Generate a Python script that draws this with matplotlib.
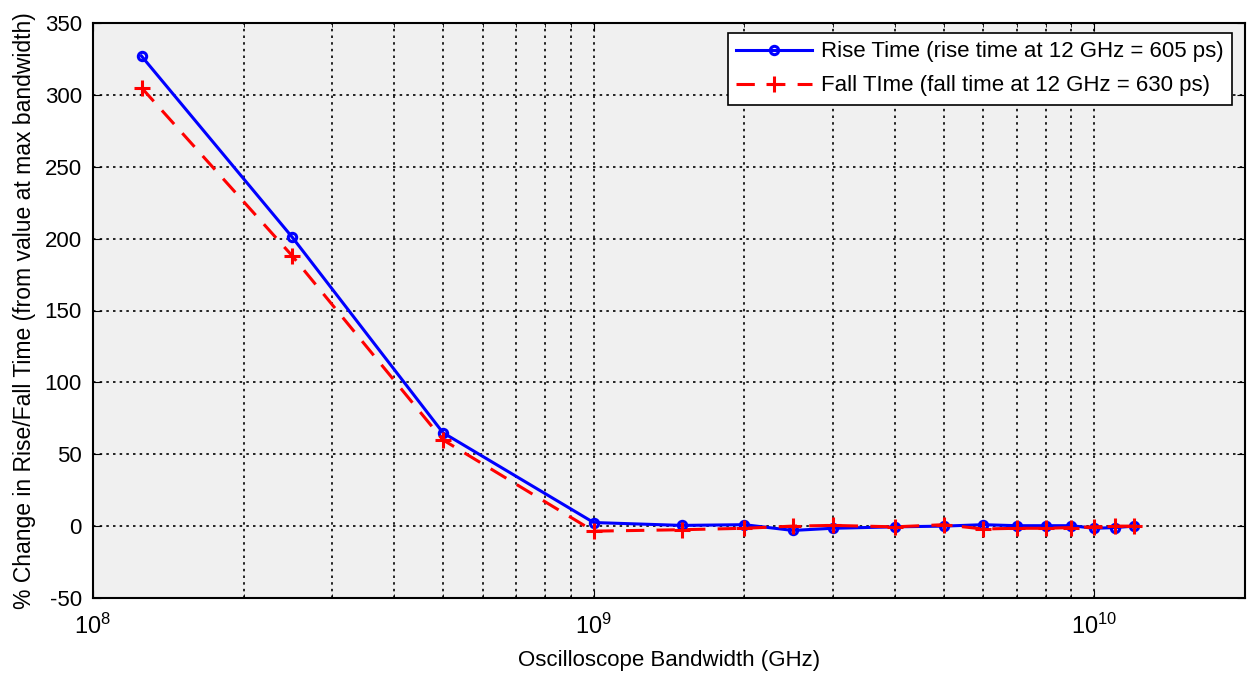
import matplotlib
matplotlib.use("Agg")
import matplotlib.pyplot as plt
import numpy as np
from matplotlib.ticker import LogLocator, NullFormatter, MultipleLocator

bandwidth_hz = [125e6, 250e6, 500e6, 1e9, 1.5e9, 2e9, 2.5e9, 3e9, 4e9, 5e9,
                6e9, 7e9, 8e9, 9e9, 10e9, 11e9, 12e9]
rise_pct = [327, 201, 65, 2.5, 0.5, 1, -3, -1.5, -0.5, 0, 1, 0.3, 0.3, 0.3, -1.5, -1, 0]
fall_pct = [305, 188, 60, -3.5, -2.5, -1.5, 0, 0.5, -0.5, 1, -2, -1.5, -1.5, -1, -0.5, 0, 0]

rise_label = "Rise Time (rise time at 12 GHz = 605 ps)"
fall_label = "Fall TIme (fall time at 12 GHz = 630 ps)"
xlabel = "Oscilloscope Bandwidth (GHz)"
ylabel = "% Change in Rise/Fall Time (from value at max bandwidth)"

plt.rcParams['font.family'] = ['Liberation Sans', 'DejaVu Sans']
plt.rcParams['axes.unicode_minus'] = False
plt.rcParams['mathtext.fontset'] = 'custom'
plt.rcParams['mathtext.rm'] = 'Liberation Sans'

fig = plt.figure(figsize=(12.47, 6.73), dpi=100)
ax = fig.add_axes([93/1247, 1-598/673, (1245-93)/1247, (598-23)/673])
ax.set_facecolor('#f0f0f0')

ax.plot(bandwidth_hz, rise_pct, '-', color='#0000ff', lw=2.2, marker='o',
        markersize=6, markerfacecolor='none', markeredgewidth=2.2, label=rise_label, zorder=3)
ax.plot(bandwidth_hz, fall_pct, '--', color='#ff0000', lw=2.2, marker='+',
        markersize=11, markeredgewidth=2.2, label=fall_label, dashes=(6, 4), zorder=4)

ax.set_xscale('log')
ax.set_xlim(1e8, 2e10)
ax.set_ylim(-50, 350)
ax.yaxis.set_major_locator(MultipleLocator(50))
ax.xaxis.set_major_locator(LogLocator(base=10, numticks=10))
ax.xaxis.set_minor_locator(LogLocator(base=10, subs=np.arange(2, 10), numticks=20))
ax.xaxis.set_minor_formatter(NullFormatter())

ax.grid(True, which='major', color='black', linestyle=(0, (1.5, 2.5)), linewidth=1.2)
ax.grid(True, which='minor', axis='x', color='black', linestyle=(0, (1.5, 2.5)), linewidth=1.2)

ax.tick_params(which='both', direction='in', top=True, right=True, labelsize=16, colors='black')
ax.tick_params(which='major', length=6)
ax.tick_params(which='minor', length=3)
ax.tick_params(axis='x', pad=11, labelsize=17)
ax.tick_params(axis='y', pad=8)
for s in ax.spines.values():
    s.set_linewidth(1.5)
    s.set_color('black')

ax.set_xlabel(xlabel, fontsize=16, labelpad=8)
ax.set_ylabel(ylabel, fontsize=16.5, labelpad=6)

leg = ax.legend(loc='upper right', bbox_to_anchor=(0.9887, 0.9826), borderaxespad=0,
                fontsize=16, frameon=True, fancybox=False, edgecolor='black', framealpha=1,
                handlelength=3.4, handletextpad=0.4, borderpad=0.38, labelspacing=0.58)
leg.get_frame().set_linewidth(1.2)

fig.savefig('out.png', dpi=100, facecolor='white')
